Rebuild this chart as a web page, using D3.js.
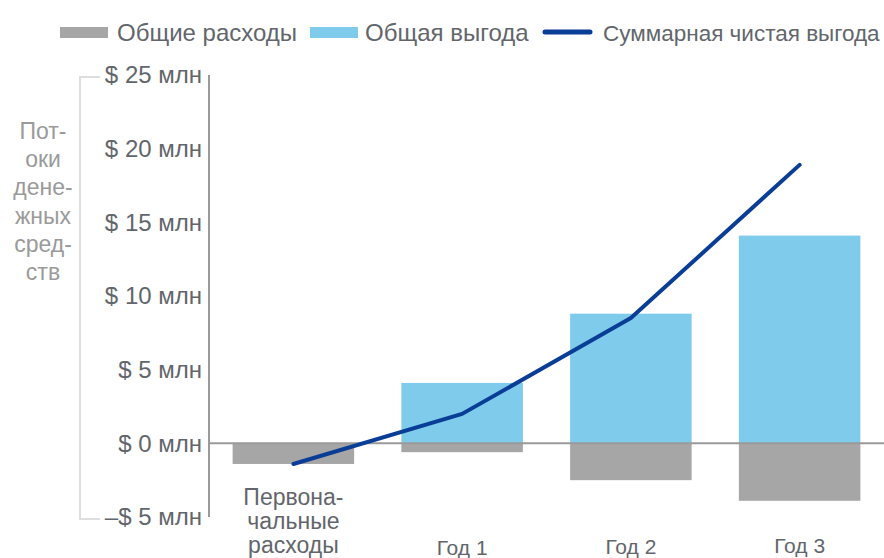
<!DOCTYPE html>
<html>
<head>
<meta charset="utf-8">
<script src="https://cdn.jsdelivr.net/npm/d3@7"></script>
<style>
body { margin: 0; background: #fff; }
text { font-family: "Liberation Sans", Arial, sans-serif; }
</style>
</head>
<body>
<div class="chart"></div>
<script>
// data
var categories = ["Первоначальные расходы", "Год 1", "Год 2", "Год 3"];
var costs = [-1.4, -0.6, -2.5, -3.9];
var benefits = [0, 4.1, 8.8, 14.1];
var cumulative = [-1.4, 2.0, 8.5, 18.9];
var yTicks = [-5, 0, 5, 10, 15, 20, 25];
var xLabelLines = [["Первона-", "чальные", "расходы"], ["Год 1"], ["Год 2"], ["Год 3"]];
var yTitleLines = ["Пот-", "оки", "дене-", "жных", "сред-", "ств"];
var legendLabels = ["Общие расходы", "Общая выгода", "Суммарная чистая выгода"];

var width = 884, height = 558;
var textColor = "#62666b";
var grey = "#a6a6a6", lightBlue = "#7ecbec", darkBlue = "#0a3d96";

var svg = d3.select(".chart").append("svg")
    .attr("width", width)
    .attr("height", height);

// scales
var x = d3.scaleBand()
    .domain(categories)
    .range([209, 884])
    .paddingInner(0.28)
    .paddingOuter(0.14);
var y = d3.scaleLinear()
    .domain([-5, 25])
    .range([517, 75]);

// bars - costs
svg.selectAll(".cost")
    .data(categories)
    .enter().append("rect")
    .attr("class", "cost")
    .attr("fill", grey)
    .attr("x", function (d) { return x(d); })
    .attr("width", x.bandwidth())
    .attr("y", y(0))
    .attr("height", function (d, i) { return y(costs[i]) - y(0); });

// bars - benefits
svg.selectAll(".benefit")
    .data(categories)
    .enter().append("rect")
    .attr("class", "benefit")
    .attr("fill", lightBlue)
    .attr("x", function (d) { return x(d); })
    .attr("width", x.bandwidth())
    .attr("y", function (d, i) { return y(benefits[i]); })
    .attr("height", function (d, i) { return y(0) - y(benefits[i]); });

// zero line
svg.append("line")
    .attr("x1", 209).attr("x2", width)
    .attr("y1", y(0)).attr("y2", y(0))
    .attr("stroke", "#9a9a9a")
    .attr("stroke-width", 2);

// y axis
var yAxis = svg.append("g")
    .attr("transform", "translate(209,0)")
    .call(d3.axisLeft(y)
        .tickValues(yTicks)
        .tickSize(0)
        .tickPadding(7)
        .tickFormat(function (d) { return (d < 0 ? "\u2013$ " + Math.abs(d) : "$ " + d) + " млн"; }));
yAxis.select(".domain")
    .attr("stroke", "#9a9a9a")
    .attr("stroke-width", 2)
    .attr("d", "M0," + y(25) + "V" + y(-5));
yAxis.selectAll("text")
    .attr("fill", textColor)
    .style("font-size", "24px");

// line - cumulative net benefit
var line = d3.line()
    .x(function (d, i) { return x(categories[i]) + x.bandwidth() / 2; })
    .y(function (d) { return y(d); });
svg.append("path")
    .datum(cumulative)
    .attr("fill", "none")
    .attr("stroke", darkBlue)
    .attr("stroke-width", 4)
    .attr("stroke-linecap", "round")
    .attr("stroke-linejoin", "round")
    .attr("d", line);

// bracket for y title
svg.append("path")
    .attr("fill", "none")
    .attr("stroke", "#dedede")
    .attr("stroke-width", 2)
    .attr("d", "M100," + (y(25) + 2) + "H80V" + (y(-5) + 2) + "H100");

svg.append("text")
    .attr("text-anchor", "middle")
    .attr("fill", "#9a9a9a")
    .style("font-size", "23px")
    .selectAll("tspan")
    .data(yTitleLines)
    .enter().append("tspan")
    .attr("x", 43)
    .attr("y", function (d, i) { return 139 + i * 28.2; })
    .text(function (d) { return d; });

// x labels
svg.selectAll(".xlabel")
    .data(categories)
    .enter().append("text")
    .attr("class", "xlabel")
    .attr("text-anchor", "middle")
    .attr("fill", textColor)
    .style("font-size", function (d, i) { return i == 0 ? "23px" : "21px"; })
    .each(function (d, i) {
        var lines = xLabelLines[i];
        d3.select(this).selectAll("tspan")
            .data(lines)
            .enter().append("tspan")
            .attr("x", x(d) + x.bandwidth() / 2)
            .attr("y", function (t, j) { return lines.length > 1 ? 505 + j * 24 : 556 - i; })
            .text(function (t) { return t; });
    });

// legend
var legendX = [60, 310, 542];
var legendColors = [grey, lightBlue, darkBlue];
var lg = svg.selectAll(".legend")
    .data(legendLabels)
    .enter().append("g")
    .attr("class", "legend")
    .attr("transform", function (d, i) { return "translate(" + legendX[i] + ",0)"; });
lg.filter(function (d, i) { return i < 2; })
    .append("rect")
    .attr("y", 27).attr("width", 48).attr("height", 11)
    .attr("fill", function (d, i) { return legendColors[i]; });
lg.filter(function (d, i) { return i == 2; })
    .append("line")
    .attr("x1", 3).attr("x2", 48).attr("y1", 32).attr("y2", 32)
    .attr("stroke", darkBlue)
    .attr("stroke-width", 5)
    .attr("stroke-linecap", "round");
lg.append("text")
    .attr("x", function (d, i) { return i == 2 ? 61 : (i == 0 ? 57 : 55); })
    .attr("y", 41)
    .attr("fill", textColor)
    .style("font-size", function (d, i) { return i == 2 ? "22.5px" : "24px"; })
    .text(function (d) { return d; });
</script>
</body>
</html>
